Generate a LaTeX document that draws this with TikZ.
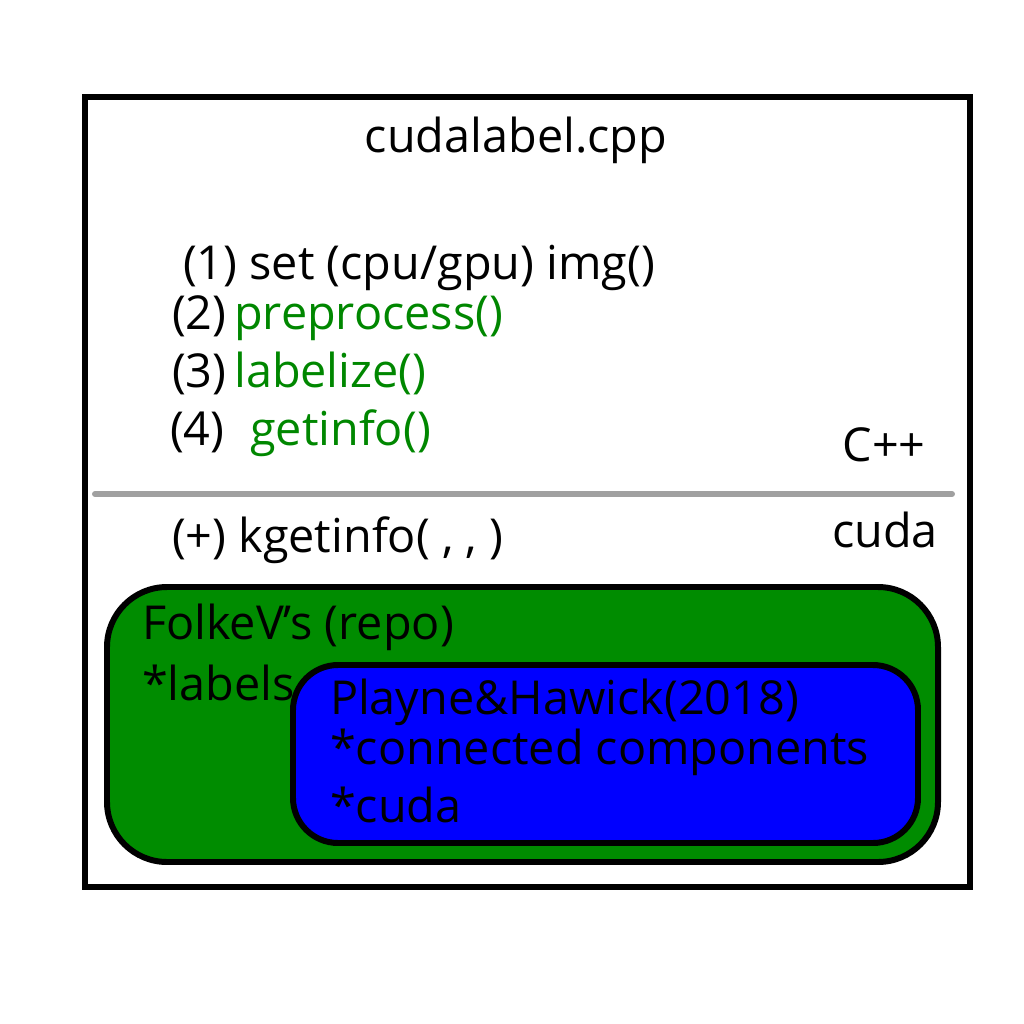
\documentclass[tikz,border=0pt]{standalone}
\usepackage{fontspec}
\setmainfont{Open Sans}
\usetikzlibrary{positioning}
\definecolor{fgreen}{RGB}{0,140,0}
\definecolor{tgreen}{RGB}{0,135,0}
\definecolor{pblue}{RGB}{0,0,255}
\definecolor{lgray}{RGB}{160,160,160}

\begin{document}
\begin{tikzpicture}[x=0.01cm,y=-0.01cm]
\tikzstyle{every node}=[inner sep=0pt,outer sep=0pt,font=\fontsize{13.3}{15}\selectfont]
\tikzstyle{txt}=[anchor=west]
\tikzstyle{frame}=[draw,line width=1.7pt]
\tikzstyle{blob}=[draw,line width=1.7pt,rounded corners=0.6cm]
\useasboundingbox (0,0) rectangle (1024,1024);
\draw[frame] (85,97) rectangle (970,887);
\node (title) at (516,140) {cudalabel.cpp};
\node[txt] (s1) at (183,268) {(1) set (cpu/gpu) img()};
\node[txt] (s2) at (172,318) {(2)\,\textcolor{tgreen}{preprocess()}};
\node[txt] (s3) at (172,373) {(3)\,\textcolor{tgreen}{labelize()}};
\node[txt] (s4) at (170,433) {(4)\hspace{0.55em}\textcolor{tgreen}{getinfo()}};
\node (cpp) at (884,445) {C++};
\coordinate (sepl) at (95,494);
\coordinate (sepr) at (952,494);
\draw[lgray,line width=1.7pt,line cap=round] (sepl) -- (sepr);
\node (cuda) at (885,530) {cuda};
\node[txt] (kget) at (172,540) {(+) kgetinfo( , , )};
% nested boxes
\draw[blob,fill=fgreen] (107,587) rectangle (938,862);
\node[txt] (folke) at (142,627) {FolkeV's (repo)};
\node[txt] (lab) at (142,683) {*labels};
\draw[blob,fill=pblue,rounded corners=0.45cm] (293,665) rectangle (918,843);
\node[txt] (playne) at (330,702) {Playne\&Hawick(2018)};
\node[txt] (conn) at (330,752) {*connected components};
\node[txt] (cu) at (330,805) {*cuda};
\end{tikzpicture}
\end{document}
